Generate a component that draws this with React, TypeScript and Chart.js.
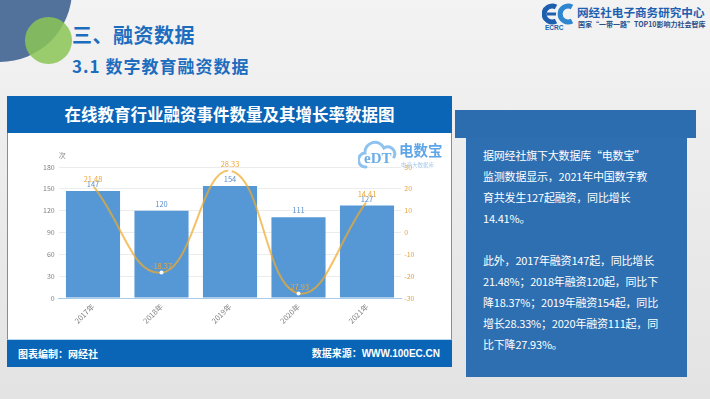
import React, { useEffect, useRef } from "react";
import { Chart, registerables } from "chart.js";

Chart.register(...registerables);

const categories = ["2017年", "2018年", "2019年", "2020年", "2021年"];
const counts = [147, 120, 154, 111, 127];
const growth = [21.48, -18.37, 28.33, -27.93, 14.41];
const leftTicks = { min: 0, max: 180, step: 30 };
const rightTicks = { min: -30, max: 30, step: 10 };

const paragraphLines = [
  "据网经社旗下大数据库“电数宝”",
  "监测数据显示，2021年中国数字教",
  "育共发生127起融资，同比增长",
  "14.41%。",
  "",
  "此外，2017年融资147起，同比增长",
  "21.48%；2018年融资120起，同比下",
  "降18.37%；2019年融资154起，同比",
  "增长28.33%；2020年融资111起，同",
  "比下降27.93%。",
];

const FAM = "'Noto Sans CJK SC', 'Liberation Sans', sans-serif";
const BAR = "#5698d6";
const LINE = "rgba(238,170,44,0.72)";

const labelPlugin = {
  id: "valueLabels",
  afterDatasetsDraw(chart: any) {
    const ctx = chart.ctx;
    const lineMeta = chart.getDatasetMeta(0);
    const barMeta = chart.getDatasetMeta(1);
    ctx.save();
    ctx.font = `7.5px ${FAM}`;
    ctx.textAlign = "center";
    ctx.textBaseline = "bottom";
    barMeta.data.forEach((el: any, i: number) => {
      ctx.fillStyle = "#5b8fca";
      ctx.fillText(String(counts[i]), el.x, el.y - 3);
    });
    lineMeta.data.forEach((el: any, i: number) => {
      ctx.fillStyle = "#eea636";
      ctx.fillText(growth[i].toFixed(2), el.x, el.y - 3);
    });
    ctx.fillStyle = "#8a8a8a";
    ctx.textAlign = "left";
    ctx.textBaseline = "middle";
    ctx.font = `7px ${FAM}`;
    ctx.fillText("次", chart.chartArea.left, chart.chartArea.top - 12);
    ctx.restore();
  },
};

function ChartBox() {
  const ref = useRef<HTMLCanvasElement>(null);
  useEffect(() => {
    if (!ref.current) return;
    const chart = new Chart(ref.current, {
      type: "bar",
      data: {
        labels: categories,
        datasets: [
          {
            type: "line",
            label: "增长率",
            data: growth,
            yAxisID: "y1",
            borderColor: LINE,
            borderWidth: 2,
            tension: 0.45,
            pointRadius: 2,
            pointBackgroundColor: "#ffffff",
            pointBorderWidth: 0,
            order: 0,
          } as any,
          {
            type: "bar",
            label: "数量",
            data: counts,
            yAxisID: "y",
            backgroundColor: BAR,
            categoryPercentage: 1,
            barPercentage: 0.79,
            order: 1,
          } as any,
        ],
      },
      options: {
        animation: false,
        responsive: false,
        maintainAspectRatio: false,
        layout: { padding: { top: 34, left: 0, right: 0, bottom: 0 } },
        plugins: { legend: { display: false }, tooltip: { enabled: false } },
        scales: {
          x: {
            grid: { display: false, drawTicks: false },
            border: { color: "#a9cbea" },
            ticks: {
              color: "#808080",
              font: { size: 7.5, family: FAM },
              maxRotation: 45,
              minRotation: 45,
              padding: 4,
            },
            afterFit: (s: any) => {
              s.height = 42;
            },
          },
          y: {
            position: "left",
            min: leftTicks.min,
            max: leftTicks.max,
            ticks: { stepSize: leftTicks.step, color: "#808080", font: { size: 7, family: FAM }, padding: 4 },
            grid: { color: "#ececec", drawTicks: false },
            border: { display: false },
            afterFit: (s: any) => {
              s.width = 50.75;
            },
          },
          y1: {
            position: "right",
            min: rightTicks.min,
            max: rightTicks.max,
            ticks: { stepSize: rightTicks.step, color: "#e8a33a", font: { size: 7, family: FAM }, padding: 3 },
            grid: { display: false, drawTicks: false },
            border: { display: false },
            afterFit: (s: any) => {
              s.width = 49.75;
            },
          },
        } as any,
      },
      plugins: [labelPlugin],
    });
    return () => chart.destroy();
  }, []);
  return (
    <canvas
      ref={ref}
      width={443}
      height={207}
      style={{ position: "absolute", left: 8, top: 133, width: 443, height: 207 }}
    />
  );
}

const abs = (o: React.CSSProperties): React.CSSProperties => ({ position: "absolute", ...o });

export default function App() {
  return (
    <div
      style={abs({
        left: 0,
        top: 0,
        width: 710,
        height: 399,
        overflow: "hidden",
        background: "linear-gradient(#f3f3f3, #e3e3e3)",
        fontFamily: FAM,
      })}
    >
      {/* decorative circles */}
      <div style={abs({ left: -72, top: -82, width: 144, height: 144, borderRadius: "50%", background: "#52729b" })} />
      <div style={abs({ left: 25, top: 17, width: 47, height: 47, borderRadius: "50%", background: "rgba(139,198,86,0.85)" })} />

      {/* titles */}
      <div style={abs({ left: 72, top: 25, fontSize: 20, lineHeight: "20px", fontWeight: 700, color: "#1d6dbf", letterSpacing: 0.5, whiteSpace: "nowrap" })}>
        三、融资数据
      </div>
      <div style={abs({ left: 72, top: 56.5, fontSize: 17, lineHeight: "17px", fontWeight: 700, color: "#1d6dbf", letterSpacing: 1, whiteSpace: "nowrap" })}>
        3.1 数字教育融资数据
      </div>

      {/* logo */}
      <svg style={abs({ left: 542, top: 3 })} width={34} height={22} viewBox="0 0 34 22">
        <path d="M14 4 A8 8 0 1 0 14 18" fill="none" stroke="#1d5fae" strokeWidth={5} />
        <path d="M30 4 A8 8 0 1 0 30 18" fill="none" stroke="#2f86d0" strokeWidth={5} />
        <rect x={5} y={9.5} width={9} height={3} fill="#1d5fae" />
      </svg>
      <div style={abs({ left: 545, top: 24, fontSize: 6.5, lineHeight: "7px", fontWeight: 700, color: "#1d5fae", fontFamily: "'Liberation Sans', sans-serif" })}>
        ECRC
      </div>
      <div style={abs({ left: 577, top: 6, fontSize: 11.6, lineHeight: "13px", fontWeight: 700, color: "#1e5fb0", whiteSpace: "nowrap" })}>
        网经社电子商务研究中心
      </div>
      <div style={abs({ left: 578, top: 20, fontSize: 7, lineHeight: "8px", fontWeight: 700, color: "#2a4f8a", whiteSpace: "nowrap" })}>
        国家“一带一路”TOP10影响力社会智库
      </div>

      {/* chart panel */}
      <div style={abs({ left: 7, top: 96, width: 445, height: 37, background: "#0a65b7" })} />
      <div
        style={abs({
          left: 7,
          top: 96,
          width: 445,
          height: 37,
          color: "#ffffff",
          fontSize: 16.5,
          fontWeight: 700,
          lineHeight: "37px",
          textAlign: "center",
          whiteSpace: "nowrap",
        })}
      >
        在线教育行业融资事件数量及其增长率数据图
      </div>
      <div
        style={abs({
          left: 7,
          top: 133,
          width: 443,
          height: 206,
          background: "#ffffff",
          borderLeft: "1px solid #8c8c8c",
          borderRight: "1px solid #8c8c8c",
          borderBottom: "1px solid #b9d6f0",
        })}
      />
      <ChartBox />
      {/* watermark */}
      <svg style={abs({ left: 358, top: 139 })} width={40} height={32} viewBox="0 0 40 32">
        <path
          d="M8 28 A7 7 0 0 1 7 14 A10 10 0 0 1 26 9 A7 7 0 0 1 36 18"
          fill="none"
          stroke="#8ec2ef"
          strokeWidth={3}
          strokeLinecap="round"
        />
      </svg>
      <div style={abs({ left: 364, top: 150, fontSize: 15, lineHeight: "16px", fontWeight: 700, color: "#6aaee8", fontFamily: "'Liberation Serif', serif", whiteSpace: "nowrap" })}>
        eDT
      </div>
      <div style={abs({ left: 399, top: 142, fontSize: 14.5, lineHeight: "16px", fontWeight: 700, color: "#5ea6e8", whiteSpace: "nowrap" })}>
        电数宝
      </div>
      <div style={abs({ left: 401, top: 162, fontSize: 5.5, lineHeight: "6px", color: "#a7c8e8", whiteSpace: "nowrap" })}>
        电商大数据库
      </div>

      {/* footer */}
      <div style={abs({ left: 7, top: 340, width: 445, height: 27, background: "#0a65b7" })} />
      <div style={abs({ left: 18, top: 340, height: 27, lineHeight: "27px", fontSize: 10, fontWeight: 700, color: "#ffffff", whiteSpace: "nowrap" })}>
        图表编制：网经社
      </div>
      <div
        style={abs({
          right: 710 - 440,
          top: 340,
          height: 27,
          lineHeight: "27px",
          fontSize: 10,
          fontWeight: 700,
          color: "#ffffff",
          whiteSpace: "nowrap",
          fontFamily: "'Liberation Sans', 'Noto Sans CJK SC', sans-serif",
        })}
      >
        数据来源：WWW.100EC.CN
      </div>

      {/* right text panel */}
      <div style={abs({ left: 455, top: 110, width: 241, height: 28, background: "#2c6db0" })} />
      <div style={abs({ left: 466, top: 138, width: 221, height: 239, background: "#2e6fb1" })} />
      <div
        style={abs({
          left: 483,
          top: 144.5,
          fontSize: 11,
          lineHeight: "21.1px",
          letterSpacing: -0.2,
          color: "#ffffff",
          whiteSpace: "pre",
        })}
      >
        {paragraphLines.join("\n")}
      </div>
    </div>
  );
}
